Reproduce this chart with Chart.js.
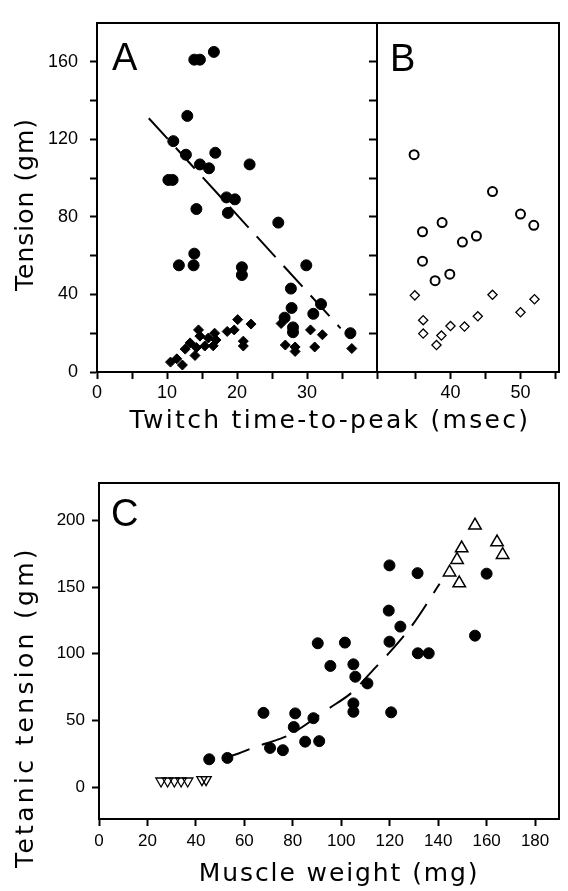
<!DOCTYPE html>
<html>
<head>
<meta charset="utf-8">
<title>Tension vs twitch time and muscle weight</title>
<script src="https://cdn.jsdelivr.net/npm/chart.js@4.4.1/dist/chart.umd.min.js"></script>
<style>
  html, body { margin: 0; padding: 0; background: #fff; }
  #wrap { position: relative; width: 568px; height: 891px; overflow: hidden; background: #fff; }
  canvas { position: absolute; left: 0; }
  #cAB { top: 0; }
  #cC { top: 455px; }
</style>
</head>
<body>
<div id="wrap">
  <canvas id="cAB" width="568" height="455"></canvas>
  <canvas id="cC" width="568" height="436"></canvas>
</div>
<script>
// ---------------- DATA ----------------
// Panel A: filled circles (tension vs twitch time-to-peak)
const aCircleX = [16.7, 13.9, 14.7, 12.9, 10.9, 12.7, 16.9, 14.7, 16.0, 21.8, 10.2, 10.8, 18.5, 19.7, 14.2, 18.7, 25.9, 13.9, 11.7, 13.8, 20.7, 20.7, 29.9, 27.7, 27.8, 32.0, 26.8, 30.9, 28.0, 28.0, 36.2];
const aCircleY = [165, 161, 161, 132, 119, 112, 113, 107, 105, 107, 99, 99, 90, 89, 84, 82, 77, 61, 55, 55, 54, 50, 55, 43, 33, 35, 28, 30, 23, 20.5, 20];
// Panel A: filled diamonds
const aDiamondX = [10.5, 11.4, 12.2, 14.5, 14.7, 16.8, 15.9, 13.3, 12.6, 14.2, 14.0, 15.4, 16.6, 17.0, 18.6, 19.6, 20.1, 22.0, 20.9, 20.9, 26.3, 26.9, 28.3, 28.3, 30.5, 32.2, 31.1, 36.4];
const aDiamondY = [5.1, 6.8, 3.6, 21.7, 18.5, 20.0, 17.5, 15.0, 11.8, 12.6, 8.5, 13.4, 13.5, 16.5, 20.9, 21.7, 27.0, 24.7, 15.9, 13.4, 25.0, 13.9, 12.9, 10.6, 21.7, 19.2, 12.9, 12.1];
// Panel A: dashed regression line (end points)
const aLineX = [7.4, 34.8];
const aLineY = [130.8, 22.5];
// Panel B: open circles
const bCircleX = [34.8, 46.0, 50.0, 51.9, 38.8, 36.0, 43.7, 41.7, 36.0, 39.9, 37.8];
const bCircleY = [112, 93, 81.4, 75.6, 77, 72.3, 70.1, 67, 57.1, 50.4, 47.1];
// Panel B: open diamonds
const bDiamondX = [34.9, 46.0, 52.0, 50.0, 43.9, 36.1, 40.0, 42.0, 36.1, 38.7, 38.0];
const bDiamondY = [39.5, 39.8, 37.5, 30.8, 28.7, 26.7, 23.7, 23.4, 19.8, 18.8, 13.9];
// Panel C: filled circles (tetanic tension vs muscle weight)
const cCircleX = [45.5, 53.0, 67.9, 70.6, 75.9, 80.4, 81.0, 85.1, 88.5, 90.3, 90.9, 95.5, 101.5, 105.0, 105.8, 105.0, 105.0, 110.8, 119.6, 119.9, 119.9, 120.6, 124.4, 131.5, 131.6, 136.1, 155.2, 160.0];
const cCircleY = [20.8, 21.8, 55.6, 29.3, 27.6, 45.0, 55.2, 34.0, 51.6, 107.8, 34.4, 90.8, 108.3, 92.0, 82.7, 62.7, 56.4, 77.7, 132.3, 166.2, 109.0, 56.0, 120.3, 160.4, 100.3, 100.3, 113.5, 160.0];
// Panel C: open triangles (apex up)
const cUpX = [155.2, 164.3, 149.7, 166.6, 147.8, 144.7, 148.7];
const cUpY = [196.2, 183.6, 179.1, 174.1, 170.4, 161.0, 152.8];
// Panel C: open triangles (apex down)
const cDownX = [25.6, 28.3, 31.1, 33.9, 36.6, 42.5, 44.2];
const cDownY = [4.5, 4.5, 4.5, 4.5, 4.5, 5.5, 5.5];
// Panel C: dashed curve
const cCurveX = [52, 57.6, 62.8, 74.3, 78.4, 94.6, 104.7, 113.1, 119.0, 129.4, 140.6];
const cCurveY = [22, 25.1, 28.9, 35.9, 38.9, 58.6, 71.4, 87.7, 99.0, 121.6, 152.4];
// Tick positions and tick labels
const abYTicks = [0, 20, 40, 60, 80, 100, 120, 140, 160];
const abYLabels = [0, 40, 80, 120, 160];
const aXTicks = [0, 5, 10, 15, 20, 25, 30, 35, 40];
const aXLabels = [0, 10, 20, 30];
const bXTicks = [35, 40, 45, 50, 55];
const bXLabels = [40, 50];
const cXTicks = [0, 20, 40, 60, 80, 100, 120, 140, 160, 180];
const cXLabels = [0, 20, 40, 60, 80, 100, 120, 140, 160, 180];
const cYTicks = [0, 50, 100, 150, 200];
const cYLabels = [0, 50, 100, 150, 200];

// ---------------- helpers ----------------
const BLACK = '#000';
const NONE = 'rgba(0,0,0,0)';
const zip = (xs, ys) => xs.map((x, i) => ({ x: x, y: ys[i] }));
const labelIf = list => v => (list.includes(v) ? String(v) : '');
const setTicks = list => s => { s.ticks = list.map(v => ({ value: v })); };
const hideTicks = vals => c => (c.tick && vals.includes(c.tick.value) ? NONE : BLACK);

Chart.defaults.color = BLACK;
Chart.defaults.font.family = "'Liberation Sans', Arial, sans-serif";

const TICK_FONT_AB = { family: "'Liberation Sans', Arial, sans-serif", size: 18 };
const TICK_FONT_C = { family: "'Liberation Sans', Arial, sans-serif", size: 17 };
const TITLE_FONT = { family: "'DejaVu Sans', sans-serif", size: 25 };

// per-axis title tweaks: letter spacing and a small shift
const TITLE_TWEAK = {
  yAB: { spacing: 1, dx: 0, dy: 7 },
  xT:  { spacing: 2.3, dx: 2, dy: 0 },
  yC:  { spacing: 3.3, dx: 0, dy: 56 },
  xC:  { spacing: 1.9, dx: 10, dy: 0 }
};

class TitledLinearScale extends Chart.LinearScale {
  drawTitle() {
    const t = TITLE_TWEAK[this.id];
    const ctx = this.ctx;
    ctx.save();
    if (t) {
      ctx.letterSpacing = t.spacing + 'px';
      ctx.translate(t.dx, t.dy);
    }
    super.drawTitle();
    ctx.restore();
  }
}
TitledLinearScale.id = 'titledLinear';
TitledLinearScale.defaults = Chart.LinearScale.defaults;
Chart.register(TitledLinearScale);

// panel letters A, B, C placed relative to the scales
const panelLetters = {
  id: 'panelLetters',
  afterDraw(chart, args, opts) {
    const ctx = chart.ctx;
    ctx.save();
    ctx.fillStyle = BLACK;
    ctx.font = "38px 'Liberation Sans', Arial, sans-serif";
    ctx.textBaseline = 'alphabetic';
    ctx.textAlign = 'left';
    (opts.items || []).forEach(it => {
      const sc = chart.scales[it.scale];
      ctx.fillText(it.text, sc.left + it.dx, chart.chartArea.top + it.dy);
    });
    ctx.restore();
  }
};

const tickGrid = (extra) => Object.assign({
  display: true, drawOnChartArea: false, drawTicks: true, tickLength: 7,
  tickWidth: 2, tickColor: BLACK, color: BLACK
}, extra || {});
const frameBorder = { display: true, color: BLACK, width: 2 };
const frameAxis = (axis, position) => ({
  type: 'linear', axis: axis, position: position, min: 0, max: 1,
  ticks: { display: false },
  grid: { display: true, drawOnChartArea: false, drawTicks: false },
  border: frameBorder,
  afterFit: s => { if (axis === 'x') { s.height = 0; } else { s.width = 0; } }
});

// ---------------- Chart A + B ----------------
new Chart(document.getElementById('cAB'), {
  type: 'scatter',
  data: {
    datasets: [
      { label: 'A circles', data: zip(aCircleX, aCircleY), xAxisID: 'xA', yAxisID: 'yAB',
        pointStyle: 'circle', pointRadius: 5.5, borderWidth: 1, backgroundColor: BLACK, borderColor: BLACK, order: 1 },
      { label: 'A diamonds', data: zip(aDiamondX, aDiamondY), xAxisID: 'xA', yAxisID: 'yAB',
        pointStyle: 'rectRot', pointRadius: 5, borderWidth: 1, backgroundColor: BLACK, borderColor: BLACK, order: 1 },
      { label: 'A regression', data: zip(aLineX, aLineY), xAxisID: 'xA', yAxisID: 'yAB',
        showLine: true, pointRadius: 0, borderColor: BLACK, borderWidth: 2, borderDash: [28, 12], order: 5 },
      { label: 'B circles', data: zip(bCircleX, bCircleY), xAxisID: 'xB', yAxisID: 'yAB',
        pointStyle: 'circle', pointRadius: 4.5, borderWidth: 2, backgroundColor: NONE, borderColor: BLACK, order: 1 },
      { label: 'B diamonds', data: zip(bDiamondX, bDiamondY), xAxisID: 'xB', yAxisID: 'yAB',
        pointStyle: 'rectRot', pointRadius: 4.6, borderWidth: 1.3, backgroundColor: NONE, borderColor: BLACK, order: 1 }
    ]
  },
  options: {
    responsive: false, animation: false, devicePixelRatio: 1,
    layout: { padding: { top: 10, right: 9, bottom: 0, left: 0 } },
    plugins: {
      legend: { display: false }, tooltip: { enabled: false },
      panelLetters: { items: [
        { text: 'A', scale: 'xA', dx: 15, dy: 47 },
        { text: 'B', scale: 'xB', dx: 13, dy: 48 }
      ] }
    },
    scales: {
      xA: {
        type: 'linear', position: 'bottom', stack: 'ab', stackWeight: 280, weight: 1,
        min: 0, max: 40, afterBuildTicks: setTicks(aXTicks),
        ticks: { autoSkip: false, maxRotation: 0, minRotation: 0, padding: 3,
                 font: TICK_FONT_AB, color: BLACK, callback: labelIf(aXLabels) },
        grid: tickGrid(), border: frameBorder,
        afterFit: s => { s.height = 48; }
      },
      xB: {
        type: 'linear', position: 'bottom', stack: 'ab', stackWeight: 182, weight: 2,
        min: 29.5, max: 55.5, afterBuildTicks: setTicks(bXTicks),
        ticks: { autoSkip: false, maxRotation: 0, minRotation: 0, padding: 3,
                 font: TICK_FONT_AB, color: BLACK, callback: labelIf(bXLabels) },
        grid: tickGrid(), border: frameBorder,
        afterFit: s => { s.height = 48; }
      },
      xT: {
        type: 'titledLinear', position: 'bottom', weight: 3, min: 0, max: 1,
        ticks: { display: false },
        grid: { display: false, drawTicks: false },
        border: { display: false },
        title: { display: true, text: 'Twitch time-to-peak (msec)', font: TITLE_FONT, color: BLACK,
                 padding: { top: 0, bottom: 19 } },
        afterFit: s => { s.height = 35; }
      },
      xTop: frameAxis('x', 'top'),
      yAB: {
        type: 'titledLinear', position: 'left', min: 0, max: 180, afterBuildTicks: setTicks(abYTicks),
        ticks: { autoSkip: false, padding: 12, font: TICK_FONT_AB, color: BLACK,
                 callback: labelIf(abYLabels) },
        grid: tickGrid(), border: frameBorder,
        title: { display: true, text: 'Tension (gm)', font: TITLE_FONT, color: BLACK,
                 padding: { top: 11, bottom: 0 } },
        afterFit: s => { s.width = 97; }
      },
      yR: {
        type: 'linear', axis: 'y', position: { xA: 40 }, min: 0, max: 180,
        afterBuildTicks: setTicks(abYTicks),
        ticks: { display: false },
        grid: tickGrid({ tickColor: hideTicks([0]) }), border: frameBorder
      },
      yRight: frameAxis('y', 'right')
    }
  },
  plugins: [panelLetters]
});

// ---------------- Chart C ----------------
new Chart(document.getElementById('cC'), {
  type: 'scatter',
  data: {
    datasets: [
      { label: 'C circles', data: zip(cCircleX, cCircleY), xAxisID: 'xC', yAxisID: 'yC',
        pointStyle: 'circle', pointRadius: 5.5, borderWidth: 1, backgroundColor: BLACK, borderColor: BLACK, order: 1 },
      { label: 'C triangles up', data: zip(cUpX, cUpY), xAxisID: 'xC', yAxisID: 'yC',
        pointStyle: 'triangle', pointRadius: 7.2, borderWidth: 1.5, backgroundColor: NONE, borderColor: BLACK, order: 1 },
      { label: 'C triangles down', data: zip(cDownX, cDownY), xAxisID: 'xC', yAxisID: 'yC',
        pointStyle: 'triangle', pointRotation: 180, pointRadius: 6, borderWidth: 1.3, backgroundColor: NONE, borderColor: BLACK, order: 1 },
      { label: 'C curve', data: zip(cCurveX, cCurveY), xAxisID: 'xC', yAxisID: 'yC',
        showLine: true, pointRadius: 0, borderColor: BLACK, borderWidth: 2, borderDash: [26, 13],
        cubicInterpolationMode: 'monotone', order: 5 }
    ]
  },
  options: {
    responsive: false, animation: false, devicePixelRatio: 1,
    layout: { padding: { top: 28, right: 2, bottom: 0, left: 0 } },
    plugins: {
      legend: { display: false }, tooltip: { enabled: false },
      panelLetters: { items: [ { text: 'C', scale: 'xC', dx: 12, dy: 43 } ] }
    },
    scales: {
      xC: {
        type: 'titledLinear', position: 'bottom', min: 0, max: 190, afterBuildTicks: setTicks(cXTicks),
        ticks: { autoSkip: false, maxRotation: 0, minRotation: 0, padding: 5,
                 font: TICK_FONT_C, color: BLACK, callback: labelIf(cXLabels) },
        grid: tickGrid(), border: frameBorder,
        title: { display: true, text: 'Muscle weight (mg)', font: TITLE_FONT, color: BLACK,
                 padding: { top: 0, bottom: 1.5 } },
        afterFit: s => { s.height = 72; }
      },
      xCTop: frameAxis('x', 'top'),
      yC: {
        type: 'titledLinear', position: 'left', min: -24, max: 228, afterBuildTicks: setTicks(cYTicks),
        ticks: { autoSkip: false, padding: 7, font: TICK_FONT_C, color: BLACK,
                 callback: labelIf(cYLabels) },
        grid: tickGrid(), border: frameBorder,
        title: { display: true, text: 'Tetanic tension (gm)', font: TITLE_FONT, color: BLACK,
                 padding: { top: 11, bottom: 0 } },
        afterFit: s => { s.width = 99; }
      },
      yCRight: frameAxis('y', 'right')
    }
  },
  plugins: [panelLetters]
});
</script>
</body>
</html>
